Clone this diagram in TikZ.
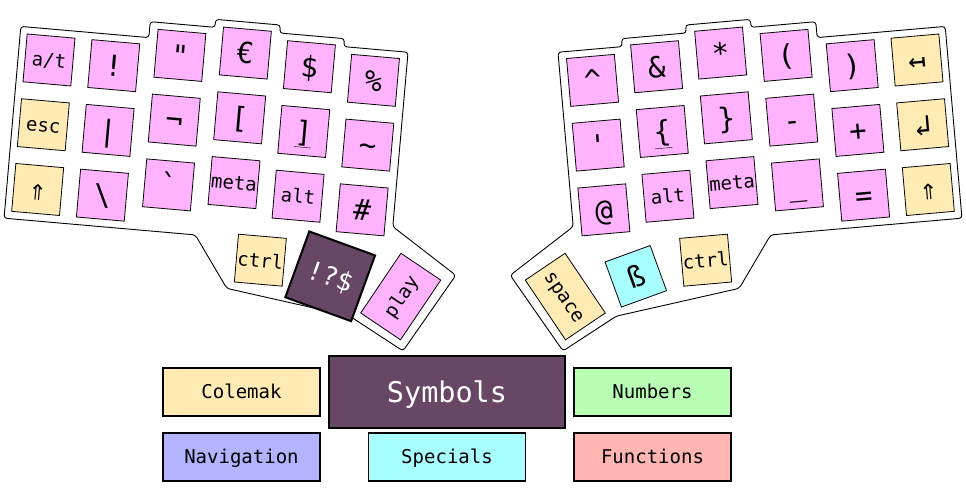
\documentclass[tikz,border=0pt]{standalone}
\usepackage{fontspec}
\newfontfamily\keyfont{DejaVu Sans Mono}
\usetikzlibrary{positioning}

\definecolor{symbolpink}{HTML}{FFB3FF}
\definecolor{basecream}{HTML}{FFEBB3}
\definecolor{numgreen}{HTML}{B9FFB3}
\definecolor{navblue}{HTML}{B3B3FF}
\definecolor{specialcyan}{HTML}{A8FFFF}
\definecolor{funcred}{HTML}{FFB6B3}
\definecolor{activeplum}{HTML}{684766}

\begin{document}
\begin{tikzpicture}[
    x=1pt, y=1pt,
    key/.style={draw, line width=0.8pt, fill=symbolpink, minimum size=48pt, inner sep=0pt,
        font=\keyfont\fontsize{19}{19}\selectfont, text height=17.5pt, text depth=3.7pt},
    big/.style={font=\keyfont\fontsize{29}{29}\selectfont, text height=27pt, text depth=5.8pt},
    basekey/.style={fill=basecream},
    specialkey/.style={fill=specialcyan},
    widekey/.style={minimum width=72pt, minimum height=48pt},
    activekey/.style={fill=activeplum, text=white, line width=2pt, minimum size=70pt,
        font=\keyfont\fontsize{26}{26}\selectfont, text height=24pt, text depth=5pt},
    layerbox/.style={draw, line width=1.3pt, minimum width=157pt, minimum height=48pt, inner sep=0pt,
        font=\keyfont\fontsize{19}{19}\selectfont, text height=17.5pt, text depth=3.7pt},
    caseline/.style={draw, fill=white, line width=0.9pt, rounded corners=3pt}
]

    \useasboundingbox (0,0) rectangle (966,498);

    % Left half
    \begin{scope}[shift={(49,438)}, rotate=-5, every node/.append style={rotate=-5}]
        \draw[caseline] (-31,31) -- (97.5,31) -- (97.5,47) -- (162.5,47) -- (162.5,55)
            -- (227.5,55) -- (227.5,47) -- (292.5,47) -- (292.5,39) -- (357,39)
            -- (357,-136) -- (424,-179) -- (378,-259) -- (322,-229) -- (197,-212)
            -- (161,-161.5) -- (-31,-161.5) -- cycle;

        % Top row
        \node[key] (l00) at (0,0) {a/t};
        \node[key, big] (l01) at (65,0) {!};
        \node[key, big] (l02) at (130,16) {"};
        \node[key, big] (l03) at (195,24) {€};
        \node[key, big] (l04) at (260,16) {\$};
        \node[key, big] (l05) at (325,8) {\%};

        % Home row
        \node[key, basekey] (l10) at (0,-65) {esc};
        \node[key, big] (l11) at (65,-65) {|};
        \node[key, big] (l12) at (130,-49) {¬};
        \node[key, big] (l13) at (195,-41) {[};
        \node[key, big] (l14) at (260,-49) {\underline{]}};
        \node[key, big] (l15) at (325,-57) {\textasciitilde};

        % Bottom row
        \node[key, big, basekey] (l20) at (0,-130) {⇑};
        \node[key, big] (l21) at (65,-130) {\textbackslash};
        \node[key, big] (l22) at (130,-114) {`};
        \node[key] (l23) at (195,-106) {meta};
        \node[key] (l24) at (260,-114) {alt};
        \node[key, big] (l25) at (325,-122) {\#};

        % Thumbs
        \node[key, basekey] (lt0) at (228,-181) {ctrl};
        \node[key, activekey, rotate=-15] (lt1) at (299,-191) {!?\$};
        \node[key, widekey, rotate=61] (lt2) at (371,-205) {play};
    \end{scope}

    % Right half
    \begin{scope}[shift={(917,438)}, rotate=5, xscale=-1, every node/.append style={rotate=5}]
        \draw[caseline] (-31,31) -- (97.5,31) -- (97.5,47) -- (162.5,47) -- (162.5,55)
            -- (227.5,55) -- (227.5,47) -- (292.5,47) -- (292.5,39) -- (357,39)
            -- (357,-136) -- (424,-179) -- (378,-259) -- (322,-229) -- (197,-212)
            -- (161,-161.5) -- (-31,-161.5) -- cycle;

        % Top row
        \node[key, big, basekey] (r00) at (0,0) {↤};
        \node[key, big] (r01) at (65,0) {)};
        \node[key, big] (r02) at (130,16) {(};
        \node[key, big] (r03) at (195,24) {*};
        \node[key, big] (r04) at (260,16) {\&};
        \node[key, big] (r05) at (325,8) {\textasciicircum};

        % Home row
        \node[key, big, basekey] (r10) at (0,-65) {↲};
        \node[key, big] (r11) at (65,-65) {+};
        \node[key, big] (r12) at (130,-49) {-};
        \node[key, big] (r13) at (195,-41) {\}};
        \node[key, big] (r14) at (260,-49) {\underline{\{}};
        \node[key, big] (r15) at (325,-57) {'};

        % Bottom row
        \node[key, big, basekey] (r20) at (0,-130) {⇑};
        \node[key, big] (r21) at (65,-130) {=};
        \node[key, big] (r22) at (130,-114) {\_};
        \node[key] (r23) at (195,-106) {meta};
        \node[key] (r24) at (260,-114) {alt};
        \node[key, big] (r25) at (325,-122) {@};

        % Thumbs
        \node[key, basekey] (rt0) at (228,-181) {ctrl};
        \node[key, specialkey, big, rotate=15] (rt1) at (299,-191) {ß};
        \node[key, basekey, widekey, rotate=-61] (rt2) at (371,-205) {space};
    \end{scope}

    % Layers
    \node[layerbox, fill=basecream] (colemak) at (241.5,106) {Colemak};
    \node[layerbox, fill=activeplum, text=white, line width=2pt, minimum width=236pt,
        minimum height=71pt, font=\keyfont\fontsize{28.5}{28.5}\selectfont,
        text height=26pt, text depth=5.2pt, right of=colemak, node distance=205.5pt] (symbols) {Symbols};
    \node[layerbox, fill=numgreen, right of=symbols, node distance=205.5pt] (numbers) {Numbers};
    \node[layerbox, fill=navblue, below of=colemak, node distance=65pt] (navigation) {Navigation};
    \node[layerbox, fill=specialcyan, right of=navigation, node distance=205.5pt] (specials) {Specials};
    \node[layerbox, fill=funcred, right of=specials, node distance=205.5pt] (functions) {Functions};

\end{tikzpicture}
\end{document}
